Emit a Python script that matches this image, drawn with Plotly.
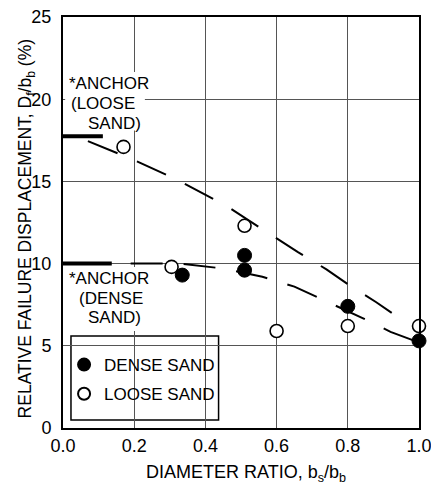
import plotly.graph_objects as go

# Data
dense_x = [0.335, 0.51, 0.51, 0.80, 1.00]
dense_y = [9.3, 10.5, 9.6, 7.4, 5.3]
loose_x = [0.17, 0.305, 0.51, 0.60, 0.80, 1.00]
loose_y = [17.1, 9.8, 12.3, 5.9, 6.2, 6.2]

loose_trend_x = [0.07, 0.20, 0.32, 0.46, 0.57, 0.66, 0.74, 0.81, 0.88, 0.96]
loose_trend_y = [17.45, 16.3, 15.1, 13.5, 11.95, 10.7, 9.65, 8.6, 7.65, 6.45]
dense_trend_x = [0.19, 0.33, 0.45, 0.56, 0.65, 0.77, 0.84, 0.92, 1.00]
dense_trend_y = [10.0, 10.0, 9.7, 9.2, 8.6, 7.4, 6.7, 5.85, 5.2]

anchor_loose_x = [0.0, 0.112]
anchor_loose_y = [17.75, 17.75]
anchor_dense_x = [0.0, 0.137]
anchor_dense_y = [10.0, 10.0]

x_ticks = [0.0, 0.2, 0.4, 0.6, 0.8, 1.0]
x_tick_text = ["0.0", "0.2", "0.4", "0.6", "0.8", "1.0"]
y_ticks = [0, 5, 10, 15, 20, 25]

loose_note_lines = ["*ANCHOR", "(LOOSE", "SAND)"]
loose_note_x = [0.011, 0.017, 0.064]
loose_note_y = [20.95, 19.75, 18.55]
dense_note_lines = ["*ANCHOR", "(DENSE", "SAND)"]
dense_note_x = [0.011, 0.039, 0.064]
dense_note_y = [9.1, 7.9, 6.7]

x_title = "DIAMETER RATIO, b<sub>s</sub>/b<sub>b</sub>"
y_title = "RELATIVE FAILURE DISPLACEMENT, D<sub>f</sub>/b<sub>b</sub> (%)"

FONT = "Liberation Sans, Arial, sans-serif"
DASH = "32px,21px"

fig = go.Figure()

# white patches that hide the grid behind the anchor notes
fig.add_shape(type="rect", xref="x", yref="y", x0=0.006, x1=0.23, y0=18.1, y1=21.65,
              fillcolor="white", line=dict(width=0), layer="between")
fig.add_shape(type="rect", xref="x", yref="y", x0=0.006, x1=0.23, y0=5.9, y1=9.8,
              fillcolor="white", line=dict(width=0), layer="between")
# legend box
fig.add_shape(type="rect", xref="paper", yref="paper", x0=0.0224, x1=0.437, y0=0.0195, y1=0.224,
              fillcolor="white", line=dict(color="black", width=1.5), layer="between")

fig.add_trace(go.Scatter(x=loose_trend_x, y=loose_trend_y, mode="lines",
                         line=dict(color="black", width=2, dash=DASH),
                         showlegend=False, hoverinfo="skip"))
fig.add_trace(go.Scatter(x=dense_trend_x, y=dense_trend_y, mode="lines",
                         line=dict(color="black", width=2, dash=DASH),
                         showlegend=False, hoverinfo="skip"))
fig.add_trace(go.Scatter(x=anchor_loose_x, y=anchor_loose_y, mode="lines",
                         line=dict(color="black", width=4),
                         showlegend=False, hoverinfo="skip", cliponaxis=False))
fig.add_trace(go.Scatter(x=anchor_dense_x, y=anchor_dense_y, mode="lines",
                         line=dict(color="black", width=4),
                         showlegend=False, hoverinfo="skip", cliponaxis=False))

fig.add_trace(go.Scatter(x=dense_x, y=dense_y, mode="markers", name="DENSE SAND",
                         legendgroup="d",
                         marker=dict(symbol="circle", size=14, color="black",
                                     line=dict(color="black", width=1)),
                         cliponaxis=False))
fig.add_trace(go.Scatter(x=loose_x, y=loose_y, mode="markers", name="LOOSE SAND",
                         legendgroup="l",
                         marker=dict(symbol="circle", size=13, color="white",
                                     line=dict(color="black", width=1.6)),
                         cliponaxis=False))

for txt, xx, yy in zip(loose_note_lines, loose_note_x, loose_note_y):
    fig.add_annotation(x=xx, y=yy, xref="x", yref="y", xanchor="left", yanchor="middle",
                       text=txt, showarrow=False, font=dict(family=FONT, size=17, color="black"))
for txt, xx, yy in zip(dense_note_lines, dense_note_x, dense_note_y):
    fig.add_annotation(x=xx, y=yy, xref="x", yref="y", xanchor="left", yanchor="middle",
                       text=txt, showarrow=False, font=dict(family=FONT, size=17, color="black"))

fig.add_annotation(x=-0.103, y=0.484, xref="paper", yref="paper", xanchor="center",
                   yanchor="middle", textangle=-90, text=y_title, showarrow=False,
                   font=dict(family=FONT, size=17.5, color="black"))
fig.add_annotation(x=0.515, y=-0.111, xref="paper", yref="paper", xanchor="center",
                   yanchor="middle", text=x_title, showarrow=False,
                   font=dict(family=FONT, size=18, color="black"))

fig.update_layout(
    width=431, height=484,
    margin=dict(l=63, r=12, t=17, b=56),
    paper_bgcolor="white", plot_bgcolor="white",
    font=dict(family=FONT, size=18, color="black"),
    legend=dict(x=0.003, y=0.197, xanchor="left", yanchor="top",
                bgcolor="rgba(0,0,0,0)", borderwidth=0,
                font=dict(family=FONT, size=17), itemsizing="constant",
                tracegroupgap=4),
    showlegend=True,
)
fig.update_xaxes(range=[0, 1.0], tickvals=x_ticks, ticktext=x_tick_text,
                 showgrid=True, gridcolor="#555555", gridwidth=1,
                 showline=True, linecolor="black", linewidth=2, mirror=True,
                 ticks="", zeroline=False, automargin=False,
                 ticklabeloverflow="allow",
                 tickfont=dict(family=FONT, size=18))
fig.update_yaxes(range=[0, 25], tickvals=y_ticks,
                 showgrid=True, gridcolor="#555555", gridwidth=1,
                 showline=True, linecolor="black", linewidth=2, mirror=True,
                 ticks="outside", ticklen=6, tickcolor="white", zeroline=False,
                 automargin=False, ticklabeloverflow="allow",
                 tickfont=dict(family=FONT, size=18))

fig.write_html("out.html", post_script="document.body.style.margin='0px';",
               config={"displayModeBar": False})
